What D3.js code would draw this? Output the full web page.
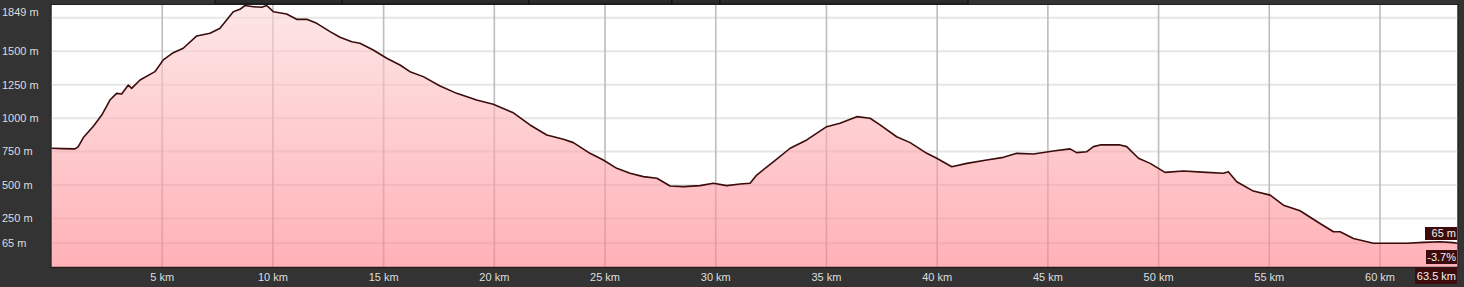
<!DOCTYPE html>
<html><head><meta charset="utf-8">
<script src="https://cdn.jsdelivr.net/npm/d3@7"></script>
<style>
html,body{margin:0;padding:0;background:#333333;}
svg{display:block;}
text{font-family:"Liberation Sans",Arial,sans-serif;}
</style></head>
<body>
<svg id="c" width="1464" height="287"></svg>
<script>
const distanceKm = [0,0.5,1.06,1.2,1.44,1.89,2.27,2.64,2.94,3.17,3.47,3.62,4.0,4.67,5.05,5.5,5.95,6.56,7.16,7.61,8.21,8.51,8.74,9.12,9.49,9.72,10.02,10.62,11.07,11.53,11.98,12.58,13.03,13.56,13.93,14.53,15.14,15.74,16.19,16.79,17.55,18.3,19.2,19.95,20.86,21.61,22.37,23.12,23.57,24.32,24.92,25.53,26.13,26.73,27.34,27.94,28.54,29.29,29.89,30.5,31.1,31.55,31.85,32.6,33.36,34.11,35.01,35.61,36.37,36.97,37.42,38.17,38.78,39.53,39.98,40.66,41.34,42.24,42.99,43.6,44.35,45.25,46.0,46.3,46.76,47.06,47.36,48.26,48.56,49.09,49.62,50.29,51.12,52.18,52.93,53.15,53.53,54.28,55.04,55.64,56.39,57.29,57.9,58.2,58.8,59.7,61.21,61.96,62.71,63.3,63.5];
const elevationM = [775,772,770,785,855,940,1023,1135,1185,1180,1247,1222,1285,1347,1435,1489,1522,1614,1634,1671,1795,1813,1845,1832,1828,1849,1795,1778,1738,1738,1708,1646,1604,1571,1559,1509,1447,1397,1347,1310,1240,1185,1135,1103,1040,949,874,842,817,737,687,625,588,563,551,493,488,496,513,496,508,513,575,674,775,837,936,961,1011,999,949,861,817,737,700,637,662,687,707,737,732,755,770,742,749,787,800,800,787,700,662,595,605,595,588,600,525,455,425,350,308,213,151,151,101,65,65,72,77,70,65];
const xTicks = [5,10,15,20,25,30,35,40,45,50,55,60];
const yGrid = [1750,1500,1250,1000,750,500,250,65];
const yLabels = [{v:1849,t:"1849 m"},{v:1500,t:"1500 m"},{v:1250,t:"1250 m"},{v:1000,t:"1000 m"},{v:750,t:"750 m"},{v:500,t:"500 m"},{v:250,t:"250 m"},{v:65,t:"65 m"}];
const readouts = ["65 m","-3.7%","63.5 km"];
const topBoxEdges = [215,342,529,672,720,968];

const svg = d3.select("#c");
const L=51.5, R=1457.5, T=5, B=267;
const x = d3.scaleLinear().domain([0,63.5]).range([L,R]);
const y = d3.scaleLinear().domain([-112,1845]).range([B,T]);

// top strip boxes
for(let i=0;i<topBoxEdges.length-1;i++){
  svg.append("rect").attr("x",topBoxEdges[i]).attr("y",-10).attr("width",topBoxEdges[i+1]-topBoxEdges[i]).attr("height",14)
    .attr("fill","#2c2c2c").attr("stroke","#0e0e0e").attr("stroke-width",1);
}

// plot background
svg.append("rect").attr("x",L).attr("y",T).attr("width",R-L).attr("height",B-T).attr("fill","#ffffff");

// gridlines
svg.append("g").selectAll("line").data(yGrid).join("line")
  .attr("x1",L).attr("x2",R).attr("y1",d=>y(d)).attr("y2",d=>y(d))
  .attr("stroke","#e6e6e6").attr("stroke-width",2);
svg.append("g").selectAll("line").data(xTicks).join("line")
  .attr("x1",d=>x(d)).attr("x2",d=>x(d)).attr("y1",T).attr("y2",B)
  .attr("stroke","#bdbdbd").attr("stroke-width",1.6);

// gradient
const defs = svg.append("defs");
const g = defs.append("linearGradient").attr("id","fillg").attr("gradientUnits","userSpaceOnUse")
  .attr("x1",0).attr("x2",0).attr("y1",T).attr("y2",B);
g.append("stop").attr("offset","0%").attr("stop-color","rgb(252,214,214)");
g.append("stop").attr("offset","100%").attr("stop-color","rgb(255,126,136)");

const pts = distanceKm.map((d,i)=>[d,elevationM[i]]);
const area = d3.area().x(d=>x(d[0])).y0(B).y1(d=>Math.max(T,y(d[1])));
const line = d3.line().x(d=>x(d[0])).y(d=>Math.max(T+0.5,y(d[1])));

svg.append("path").datum(pts).attr("d",area).attr("fill","url(#fillg)").attr("fill-opacity",0.6);
svg.append("path").datum(pts).attr("d",line).attr("fill","none").attr("stroke","#3a0c0c").attr("stroke-width",1.6).attr("stroke-linejoin","round");

// bottom border
svg.append("line").attr("x1",L).attr("x2",R).attr("y1",B+0.5).attr("y2",B+0.5).attr("stroke","#4a1c1c").attr("stroke-width",1.5);
// frame
svg.append("rect").attr("x",L-0.5).attr("y",T-0.5).attr("width",R-L+1).attr("height",B-T+1)
  .attr("fill","none").attr("stroke","#1e1e1e").attr("stroke-width",1);

// y labels
svg.append("g").selectAll("text").data(yLabels).join("text")
  .attr("x",2).attr("y",d=>Math.max(T+7,y(d.v))).attr("dy","0.35em")
  .attr("font-size",11).attr("fill","#dedede").text(d=>d.t);

// x labels
svg.append("g").selectAll("text").data(xTicks).join("text")
  .attr("x",d=>x(d)).attr("y",277).attr("dy","0.35em").attr("text-anchor","middle")
  .attr("font-size",11).attr("fill","#dedede").text(d=>d+" km");

// readouts
const boxes = [{x:1425,y:227,w:32,h:13},{x:1426,y:250,w:31,h:14},{x:1415,y:268,w:42,h:16}];
readouts.forEach((t,i)=>{
  const b=boxes[i];
  svg.append("rect").attr("x",b.x).attr("y",b.y).attr("width",b.w).attr("height",b.h).attr("fill","#3d0b0b");
  svg.append("text").attr("x",b.x+b.w-1).attr("y",b.y+b.h/2).attr("dy","0.35em").attr("text-anchor","end")
    .attr("font-size",11).attr("fill","#f2f2f2").text(t);
});
</script>
</body></html>
